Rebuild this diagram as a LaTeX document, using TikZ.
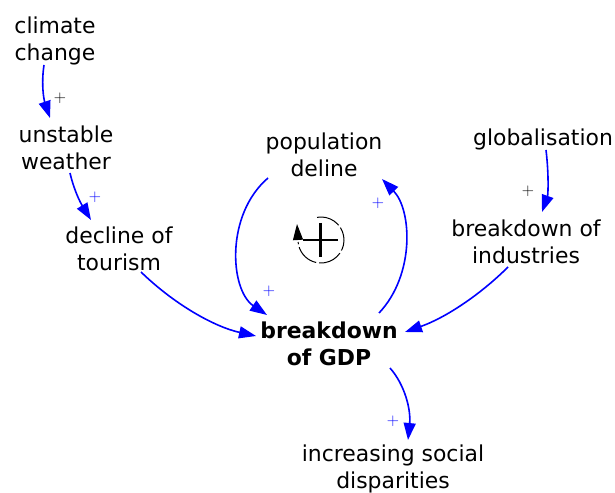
\documentclass[tikz,border=0pt]{standalone}
\usepackage{fontspec}
\setmainfont{DejaVu Sans}
\newfontfamily\plusfont{Latin Modern Roman}
\usetikzlibrary{arrows.meta,calc}
\begin{document}
\begin{tikzpicture}[x=1bp,y=-1bp,
  concept/.style={align=center,inner sep=0pt,font=\fontsize{22}{27}\selectfont},
  link/.style={draw=blue,line width=1.6bp,-{Triangle[length=17bp,width=12bp]}},
  pluslbl/.style={inner sep=0pt,font=\plusfont\fontsize{17}{17}\selectfont}]
\useasboundingbox (0,0) rectangle (615,493);
% concepts
\node[concept] (cc) at (55,41) {climate\\change};
\node[concept] (uw) at (66,148) {unstable\\weather};
\node[concept] (dt) at (119,249) {decline of\\tourism};
\node[concept] (pd) at (324,155) {population\\deline};
\node[concept] (gl) at (543,139) {globalisation};
\node[concept] (bi) at (526,242) {breakdown of\\industries};
\node[concept,font=\fontsize{22}{27}\selectfont\bfseries] (gdp) at (329,344) {breakdown\\of GDP};
\node[concept] (isd) at (393,469) {increasing social\\disparities};
% links
\draw[link] ($(cc)+(-11,24)$) .. controls ($(cc)+(-14,44)$) and ($(uw)+(-22,-48)$) .. ($(uw)+(-16,-30)$);
\draw[link] ($(uw)+(4,25)$) .. controls ($(uw)+(8,42)$) and ($(dt)+(-39,-47)$) .. ($(dt)+(-28,-29)$);
\draw[link] ($(dt)+(22,23)$) .. controls ($(dt)+(56,56)$) and ($(gdp)+(-114,-17)$) .. ($(gdp)+(-73,-8)$);
\draw[link] ($(pd)+(-56,23)$) .. controls ($(pd)+(-99,60)$) and ($(gdp)+(-99,-54)$) .. ($(gdp)+(-62,-29)$);
\draw[link] ($(gdp)+(50,-31)$) .. controls ($(gdp)+(86,-69)$) and ($(pd)+(88,55)$) .. ($(pd)+(58,24)$);
\draw[link] ($(gl)+(3,11)$) .. controls ($(gl)+(6,36)$) and ($(bi)+(22,-47)$) .. ($(bi)+(16,-30)$);
\draw[link] ($(bi)+(-18,25)$) .. controls ($(bi)+(-46,53)$) and ($(gdp)+(116,-26)$) .. ($(gdp)+(76,-12)$);
\draw[link] ($(gdp)+(61,24)$) .. controls ($(gdp)+(76,41)$) and ($(isd)+(18,-59)$) .. ($(isd)+(15,-29)$);
% polarity labels
\node[pluslbl] (p1) at (60,98) {+};
\node[pluslbl,text=blue] (p2) at (95,197) {+};
\node[pluslbl,text=blue] (p3) at (269,291) {+};
\node[pluslbl,text=blue] (p4) at (378,203) {+};
\node[pluslbl] (p5) at (528,191) {+};
\node[pluslbl,text=blue] (p6) at (393,421) {+};
% loop symbol
\coordinate (loop) at (321,240);
\draw[line width=2.3bp] ($(loop)+(-18,0)$) -- ($(loop)+(17,0)$);
\draw[line width=2.3bp] ($(loop)+(-0.5,-17)$) -- ($(loop)+(-0.5,17)$);
\draw[line width=1bp,dash pattern=on 24bp off 3bp]
  ($(loop)+(-100:23)$) arc[start angle=-100,end angle=175,radius=23];
\draw[line width=1bp,-{Triangle[length=16bp,width=10bp]}]
  ($(loop)+(-23,0)$) -- ($(loop)+(-24,-16)$);
\end{tikzpicture}
\end{document}
